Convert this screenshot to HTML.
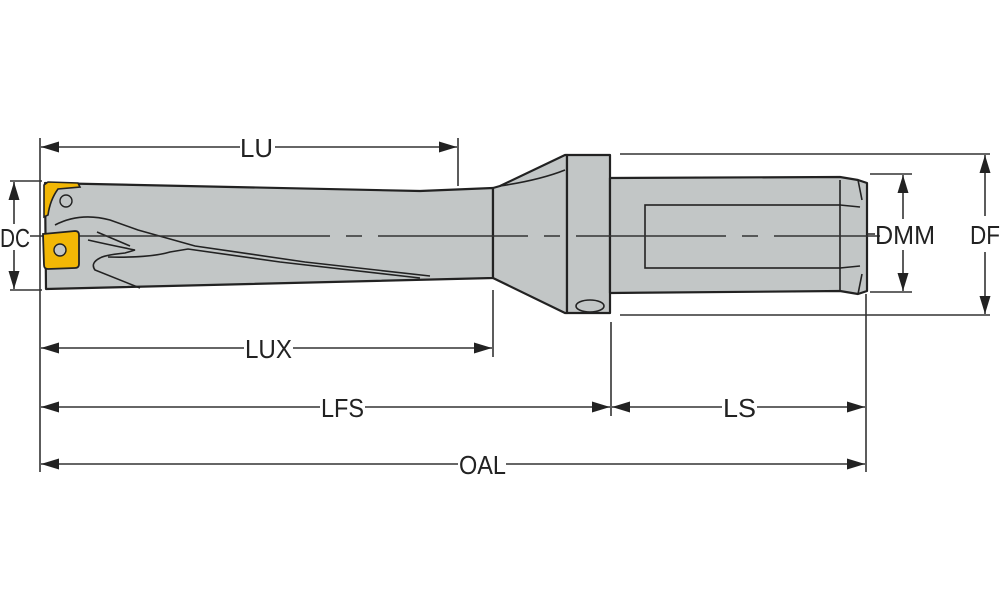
<!DOCTYPE html>
<html><head><meta charset="utf-8"><style>html,body{margin:0;padding:0;background:#fff}svg{display:block}text{font-family:"Liberation Sans",sans-serif;font-size:26px;fill:#222}</style></head>
<body>
<svg width="1000" height="611" viewBox="0 0 1000 611" xmlns="http://www.w3.org/2000/svg">
<defs>
<marker id="a" viewBox="0 0 18 11" refX="18" refY="5.5" markerWidth="18" markerHeight="11" markerUnits="userSpaceOnUse" orient="auto-start-reverse"><path d="M0,0 L18,5.5 L0,11 Z" fill="#222"/></marker>
</defs>
<g stroke="#333" stroke-width="1.6" fill="none">
<line x1="40" y1="138" x2="40" y2="472"/>
<line x1="458" y1="138" x2="458" y2="186"/>
<line x1="493" y1="290" x2="493" y2="357"/>
<line x1="611" y1="322" x2="611" y2="416"/>
<line x1="866" y1="294" x2="866" y2="472"/>
<line x1="10" y1="181" x2="42" y2="181"/>
<line x1="10" y1="290" x2="42" y2="290"/>
<line x1="620" y1="154" x2="990" y2="154"/>
<line x1="620" y1="315" x2="990" y2="315"/>
<line x1="870" y1="174" x2="912" y2="174"/>
<line x1="870" y1="292" x2="912" y2="292"/>
</g>
<g stroke="#222" stroke-width="2.2" stroke-linejoin="round" fill="#c2c6c6">
<path d="M45,183 L420,191 L493,188 L493,278 L46,289 Z"/>
<path d="M493,188 L500,186 L565,155 L567,155 L567,313 L565,313 L493,278 Z"/>
<path d="M567,155 L610,155 L610,313 L567,313 Z"/>
<path d="M610,178 L840,177 L858,180 L867,183 L867,291 L858,294 L840,291 L610,293 Z"/>
</g>
<g stroke="#222" stroke-width="1.6" fill="none">
<path d="M500,186 Q540,180 565,170"/>
<rect x="645" y="205" width="195" height="63"/>
<line x1="840" y1="180" x2="840" y2="205"/><line x1="840" y1="205" x2="860" y2="207"/>
<line x1="840" y1="291" x2="840" y2="268"/><line x1="840" y1="268" x2="860" y2="266"/>
<path d="M858,180 L862,200 M858,294 L862,274"/>
<ellipse cx="590" cy="306" rx="14" ry="6"/>
<path d="M55,225 Q80,212 110,220 L138,230 L195,246 L305,262 L430,276"/>
<path d="M97,232 L130,246 M88,240 Q110,245 135,250 L125,253 Q105,255 100,258 Q90,263 95,270 L140,288"/>
<path d="M108,257 Q150,258 170,252 L188,249 L280,262 L420,278"/>
</g>
<line x1="30" y1="236" x2="880" y2="236" stroke="#333" stroke-width="1.4" stroke-dasharray="300,16,16,16,150,16,16,16,150,16,16,16,140,16"/>
<path d="M44,185 L48,182 L78,183 L80,187 L58,189 Q50,200 48,215 L44,217 Z" fill="#f2b705" stroke="#222" stroke-width="1.6"/>
<circle cx="66" cy="201" r="6" fill="#c2c6c6" stroke="#222" stroke-width="1.4"/>
<path d="M43,234 L75,231 Q79,231 79,235 L79,264 Q79,268 75,268 L48,269 Q44,269 44,265 Z" fill="#f2b705" stroke="#222" stroke-width="1.8"/>
<circle cx="60" cy="250" r="6" fill="#c2c6c6" stroke="#222" stroke-width="1.4"/>
<g stroke="#333" stroke-width="1.6" fill="none">
<line x1="41" y1="147" x2="240" y2="147" marker-start="url(#a)"/>
<line x1="275" y1="147" x2="457" y2="147" marker-end="url(#a)"/>
<line x1="41" y1="348" x2="244" y2="348" marker-start="url(#a)"/>
<line x1="293" y1="348" x2="492" y2="348" marker-end="url(#a)"/>
<line x1="41" y1="407" x2="320" y2="407" marker-start="url(#a)"/>
<line x1="365" y1="407" x2="610" y2="407" marker-end="url(#a)"/>
<line x1="612" y1="407" x2="722" y2="407" marker-start="url(#a)"/>
<line x1="757" y1="407" x2="865" y2="407" marker-end="url(#a)"/>
<line x1="41" y1="464" x2="458" y2="464" marker-start="url(#a)"/>
<line x1="506" y1="464" x2="865" y2="464" marker-end="url(#a)"/>
<line x1="14" y1="182" x2="14" y2="224" marker-start="url(#a)"/>
<line x1="14" y1="250" x2="14" y2="289" marker-end="url(#a)"/>
<line x1="903" y1="175" x2="903" y2="219" marker-start="url(#a)"/>
<line x1="903" y1="250" x2="903" y2="291" marker-end="url(#a)"/>
<line x1="985" y1="155" x2="985" y2="216" marker-start="url(#a)"/>
<line x1="985" y1="252" x2="985" y2="314" marker-end="url(#a)"/>
<line x1="867" y1="234" x2="875" y2="234"/>
</g>
<text x="240" y="157" textLength="33" lengthAdjust="spacingAndGlyphs">LU</text>
<text x="245" y="358" textLength="47" lengthAdjust="spacingAndGlyphs">LUX</text>
<text x="321" y="417" textLength="43" lengthAdjust="spacingAndGlyphs">LFS</text>
<text x="723" y="417" textLength="33" lengthAdjust="spacingAndGlyphs">LS</text>
<text x="459" y="474" textLength="47" lengthAdjust="spacingAndGlyphs">OAL</text>
<text x="0" y="247" textLength="30" lengthAdjust="spacingAndGlyphs">DC</text>
<text x="875" y="244" textLength="60" lengthAdjust="spacingAndGlyphs">DMM</text>
<text x="970" y="244" textLength="30" lengthAdjust="spacingAndGlyphs">DF</text>
</svg>
</body></html>
